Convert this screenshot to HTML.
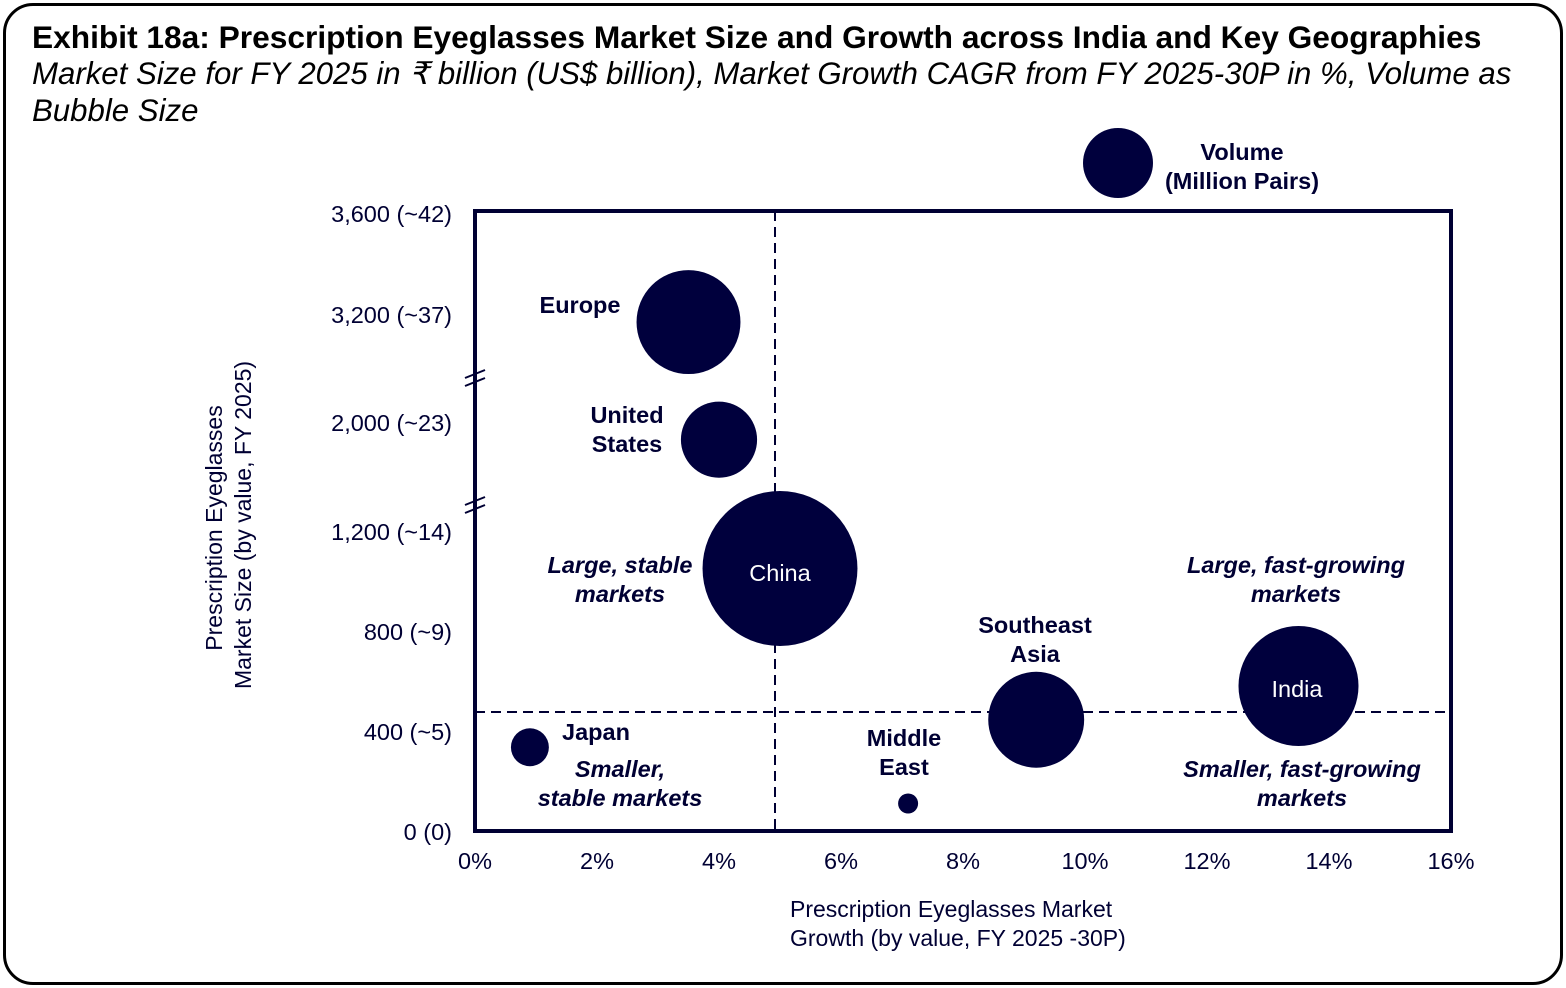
<!DOCTYPE html>
<html><head><meta charset="utf-8"><style>
body{margin:0;width:1566px;height:988px;background:#fff;font-family:"Liberation Sans",sans-serif;overflow:hidden}
.frame{position:absolute;left:3px;top:3px;width:1554px;height:976px;border:3px solid #000;border-radius:30px}
.t1{position:absolute;left:32px;top:19px;font-size:31.7px;font-weight:bold;color:#000;white-space:nowrap}
.t2{position:absolute;left:32px;top:55px;font-size:31.2px;font-style:italic;color:#000;line-height:37px;white-space:nowrap}
svg{position:absolute;left:0;top:0}
</style></head><body>
<div class="frame"></div>
<div class="t1">Exhibit 18a: Prescription Eyeglasses Market Size and Growth across India and Key Geographies</div>
<div class="t2">Market Size for FY 2025 in ₹ billion (US$ billion), Market Growth CAGR from FY 2025-30P in %, Volume as<br>Bubble Size</div>
<svg id="chart" width="1566" height="988"></svg>
<script>
const regions=["Europe","United States","China","Southeast Asia","India","Japan","Middle East"];
const growth=[3.5,4.0,5.0,9.2,13.5,0.9,7.1];
const marketSize=[3110,1870,1050,445,580,335,110];
const volume=[270,145,600,230,360,36,10];
const xTicks=[0,2,4,6,8,10,12,14,16];
const yTicks=[0,400,800,1200,2000,3200,3600];
const yTickLabels=["0 (0)","400 (~5)","800 (~9)","1,200 (~14)","2,000 (~23)","3,200 (~37)","3,600 (~42)"];
const NS="http://www.w3.org/2000/svg",svg=document.getElementById("chart");
const L=475,R=1451,T=211,B=831,navy="#000033";
function xs(v){return L+(v/16)*(R-L);}
function ys(v){const d=[0,1200,2000,3200,3600],r=[831,531,422,314,213];
 for(let i=0;i<d.length-1;i++){if(v<=d[i+1]||i==d.length-2){return r[i]+(v-d[i])/(d[i+1]-d[i])*(r[i+1]-r[i]);}}}
function rs(v){return Math.sqrt(v*10);}
function el(t,a,txt){const e=document.createElementNS(NS,t);for(const k in a)e.setAttribute(k,a[k]);if(txt!=null)e.textContent=txt;svg.appendChild(e);return e;}
let e;
e=el("rect",{x:L,y:T,width:R-L,height:B-T,fill:"none",stroke:navy,"stroke-width":4});

e=el("line",{x1:775,y1:T,x2:775,y2:B,stroke:navy,"stroke-width":2,"stroke-dasharray":"10,6"});

e=el("line",{x1:L,y1:712,x2:R,y2:712,stroke:navy,"stroke-width":2,"stroke-dasharray":"10,6"});

[378,505].forEach(y=>{for(const o of [-4,4]){e=el("line",{x1:L-10,y1:y+o+4,x2:L+10,y2:y+o-4,stroke:navy,"stroke-width":2});
}});
xTicks.forEach(v=>{e=el("text",{x:xs(v),y:869,"text-anchor":"middle","font-size":23.5,fill:navy},v+"%");
});
yTicks.forEach((v,i)=>{e=el("text",{x:452,y:ys(v)+9,"text-anchor":"end","font-size":23.5,fill:navy},yTickLabels[i]);
});
regions.forEach((n,i)=>{e=el("circle",{cx:xs(growth[i]),cy:ys(marketSize[i]),r:rs(volume[i]),fill:"#00003d"});
});
e=el("circle",{cx:1118,cy:163,r:35,fill:"#00003d"});

function lab(x,y,lines,o,name){lines.forEach((s,j)=>{e=el("text",Object.assign({x:x,y:y+j*29,"text-anchor":"middle","font-size":23.5,fill:navy,"font-weight":"bold"},o||{}),s);
});}
lab(1242,160,["Volume","(Million Pairs)"],{},"legend-label");
lab(580,313,["Europe"],{},"label-europe");
lab(627,423,["United","States"],{},"label-us");
lab(780,581,["China"],{fill:"#fff","font-weight":"normal"},"label-china");
lab(1297,697,["India"],{fill:"#fff","font-weight":"normal"},"label-india");
lab(1035,633,["Southeast","Asia"],{},"label-sea");
lab(904,746,["Middle","East"],{},"label-me");
lab(596,740,["Japan"],{},"label-japan");
const it={"font-style":"italic"};
lab(620,573,["Large, stable","markets"],it,"quadrant-label");
lab(1296,573,["Large, fast-growing","markets"],it,"quadrant-label");
lab(620,777,["Smaller,","stable markets"],it,"quadrant-label");
lab(1302,777,["Smaller, fast-growing","markets"],it,"quadrant-label");
e=el("text",{x:790,y:917,"font-size":23,fill:navy},"Prescription Eyeglasses Market");

e=el("text",{x:790,y:946,"font-size":23,fill:navy},"Growth  (by value, FY 2025  -30P)");

e=el("text",{transform:"translate(222,528) rotate(-90)","text-anchor":"middle","font-size":23,fill:navy},"Prescription Eyeglasses");

e=el("text",{transform:"translate(251,525) rotate(-90)","text-anchor":"middle","font-size":23,fill:navy},"Market Size  (by value, FY 2025)");

</script>
</body></html>
